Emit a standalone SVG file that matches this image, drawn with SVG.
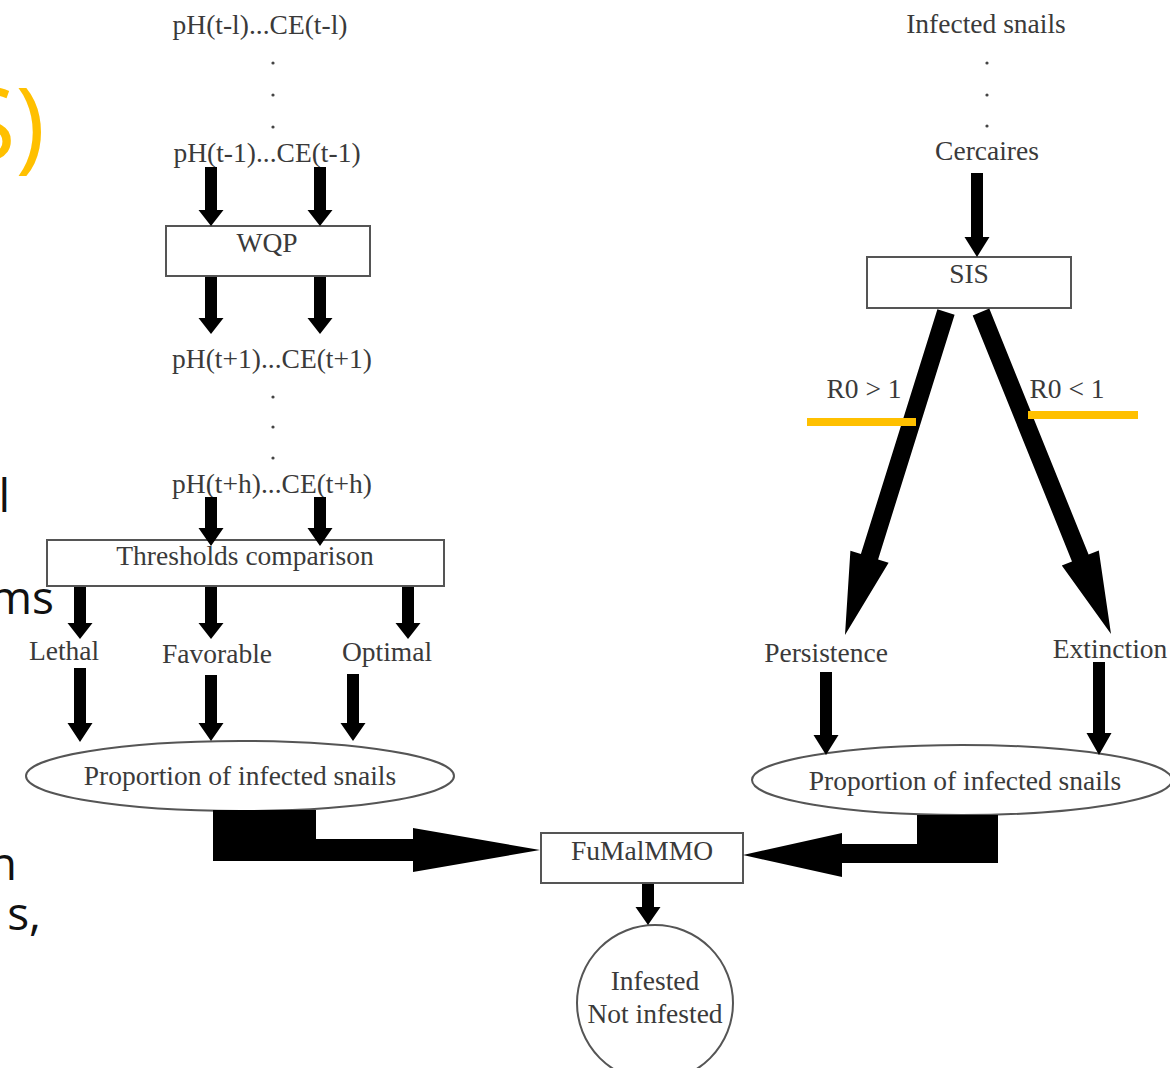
<svg xmlns="http://www.w3.org/2000/svg" width="1170" height="1068" viewBox="0 0 1170 1068">
<style>
.t{font-family:"Liberation Serif","Times New Roman",serif;font-size:27.5px;fill:#3a3a3a;text-anchor:middle}
.box{fill:#fff;stroke:#555;stroke-width:2}
.arr{fill:#000}
.dot{fill:#444}
.frag{font-family:"Open Sans","Liberation Sans",sans-serif;font-size:46px;fill:#111;text-anchor:end}
.org{stroke:#FFC000;stroke-width:8}
</style>
<rect width="1170" height="1068" fill="#fff"/>
<g id="slide-fragments">
<text x="45" y="160" style="font-family:'Open Sans','Liberation Sans',sans-serif;font-size:100px;fill:#FFC000;text-anchor:end">S)</text>
<text class="frag" x="10" y="512">l</text>
<text class="frag" x="54" y="614">ms</text>
<text class="frag" x="17" y="880">n</text>
<text class="frag" x="41" y="930">s,</text>
</g>
<g id="n-ptl">
<text class="t" x="260" y="34">pH(t-l)...CE(t-l)</text>
<circle class="dot" cx="273" cy="63" r="1.6"/><circle class="dot" cx="273" cy="95" r="1.6"/><circle class="dot" cx="273" cy="127" r="1.6"/>
</g>
<g id="n-pt1"><text class="t" x="267" y="162">pH(t-1)...CE(t-1)</text></g>
<g id="n-wqp"><rect class="box" x="166" y="226" width="204" height="50"/><text class="t" x="267" y="252">WQP</text></g>
<g id="n-ptp1">
<text class="t" x="272" y="368">pH(t+1)...CE(t+1)</text>
<circle class="dot" cx="273" cy="397" r="1.6"/><circle class="dot" cx="273" cy="427" r="1.6"/><circle class="dot" cx="273" cy="458" r="1.6"/>
</g>
<g id="n-pth"><text class="t" x="272" y="493">pH(t+h)...CE(t+h)</text></g>
<g id="n-thr"><rect class="box" x="47" y="540" width="397" height="46"/><text class="t" x="245" y="565">Thresholds comparison</text></g>
<g id="n-lethal"><text class="t" x="64" y="660">Lethal</text></g>
<g id="n-fav"><text class="t" x="217" y="663">Favorable</text></g>
<g id="n-opt"><text class="t" x="387" y="661">Optimal</text></g>
<g id="n-prop-left"><ellipse class="box" cx="240" cy="776" rx="214" ry="35"/><text class="t" x="240" y="785">Proportion of infected snails</text></g>
<g id="n-infected">
<text class="t" x="986" y="33">Infected snails</text>
<circle class="dot" cx="987" cy="63" r="1.6"/><circle class="dot" cx="987" cy="95" r="1.6"/><circle class="dot" cx="987" cy="126" r="1.6"/>
</g>
<g id="n-cerc"><text class="t" x="987" y="160">Cercaires</text></g>
<g id="n-sis"><rect class="box" x="867" y="257" width="204" height="51"/><text class="t" x="969" y="283">SIS</text></g>
<g id="n-pers"><text class="t" x="826" y="662">Persistence</text></g>
<g id="n-ext"><text class="t" x="1110" y="658">Extinction</text></g>
<g id="n-prop-right"><ellipse class="box" cx="962" cy="780" rx="210" ry="35"/><text class="t" x="965" y="790">Proportion of infected snails</text></g>
<g id="n-fumal"><rect class="box" x="541" y="833" width="202" height="50"/><text class="t" x="642" y="860">FuMalMMO</text></g>
<g id="n-result"><circle class="box" cx="655" cy="1003" r="78"/><text class="t" x="655" y="990">Infested</text><text class="t" x="655" y="1023">Not infested</text></g>
<g id="connectors">
<polygon class="arr" points="205,167 217,167 217,210 223.5,210 211,226 198.5,210 205,210"/>
<polygon class="arr" points="314,167 326,167 326,210 332.5,210 320,226 307.5,210 314,210"/>
<polygon class="arr" points="205,277 217,277 217,318 223.5,318 211,334 198.5,318 205,318"/>
<polygon class="arr" points="314,277 326,277 326,318 332.5,318 320,334 307.5,318 314,318"/>
<polygon class="arr" points="205,497 217,497 217,528 223.5,528 211,546 198.5,528 205,528"/>
<polygon class="arr" points="314,497 326,497 326,528 332.5,528 320,546 307.5,528 314,528"/>
<polygon class="arr" points="74,587 86,587 86,623 92.5,623 80,639 67.5,623 74,623"/>
<polygon class="arr" points="205,587 217,587 217,623 223.5,623 211,639 198.5,623 205,623"/>
<polygon class="arr" points="402,587 414,587 414,623 420.5,623 408,639 395.5,623 402,623"/>
<polygon class="arr" points="74,668 86,668 86,723 92.5,723 80,742 67.5,723 74,723"/>
<polygon class="arr" points="205,675 217,675 217,723 223.5,723 211,741 198.5,723 205,723"/>
<polygon class="arr" points="347,674 359,674 359,723 365.5,723 353,741 340.5,723 347,723"/>
<polygon class="arr" points="971,173 983,173 983,237 989.5,237 977,257 964.5,237 971,237"/>
<polygon class="arr" points="937.4,309.3 860.9,554 850.4,550.7 845,635 888.6,562.7 878.1,559.4 954.6,314.7"/>
<polygon class="arr" points="972.7,315.4 1072,561.4 1061.8,565.5 1111,634 1098.8,550.5 1088.6,554.6 989.3,308.6"/>
<polygon class="arr" points="820,672 832,672 832,735 838.5,735 826,755 813.5,735 820,735"/>
<polygon class="arr" points="1093,662 1105,662 1105,733 1111.5,733 1099,755 1086.5,733 1093,733"/>
<polygon class="arr" points="213,810 316,810 316,839 413,839 413,828 540,850 413,872 413,861 213,861"/>
<polygon class="arr" points="998,815 917,815 917,844 842,844 842,833 743,855 842,877 842,863 998,863"/>
<polygon class="arr" points="642,884 654,884 654,907 660.5,907 648,925 635.5,907 642,907"/>
</g>
<g id="labels">
<text class="t" x="864" y="398">R0 &gt; 1</text>
<text class="t" x="1067" y="398">R0 &lt; 1</text>
<line class="org" x1="807" y1="422" x2="916" y2="422"/>
<line class="org" x1="1028" y1="415" x2="1138" y2="415"/>
</g>
</svg>
